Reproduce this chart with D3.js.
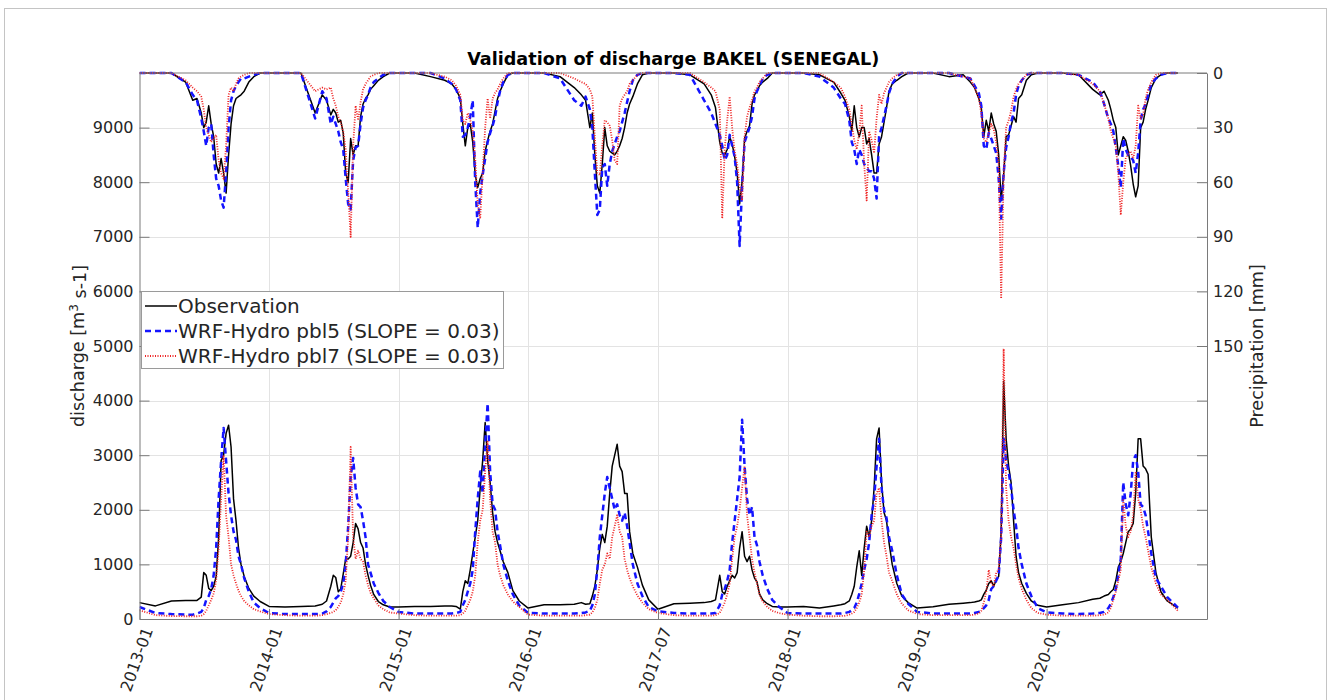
<!DOCTYPE html>
<html>
<head>
<meta charset="utf-8">
<script src="https://cdn.jsdelivr.net/npm/d3@7"></script>
<style>
  body { margin: 0; background: #fff; }
  text { font-family: "DejaVu Sans", sans-serif; fill: #262626; }
</style>
</head>
<body>
<script>
'use strict';

// sampling: one row of values per year, taken on these days of the year
const years = [2013, 2014, 2015, 2016, 2017, 2018, 2019, 2020];
const sampleDays = [0, 45, 90, 130, 150, 162, 174, 181, 188, 195, 202, 209, 216, 223, 230, 237, 244, 251, 258, 265, 272, 279, 286, 295, 308, 322, 340];
const lastDay = "2021-01-05";

const xTickLabels = ["2013-01", "2014-01", "2015-01", "2016-01", "2017-07", "2018-01", "2019-01", "2020-01"];
const seriesNames = ["Observation", "WRF-Hydro pbl5 (SLOPE = 0.03)", "WRF-Hydro pbl7 (SLOPE = 0.03)"];

// discharge [m3 s-1]
const obsDischarge = [
  300, 240, 330, 340, 340, 340, 400, 850, 800, 560, 520, 600, 780, 1500, 2900, 3000, 3400, 3550, 3150, 2200, 1800, 1300, 1000, 780, 560, 420, 320,
  230, 220, 230, 240, 270, 330, 600, 800, 760, 500, 550, 820, 1100, 1100, 1150, 1400, 1750, 1650, 1400, 1300, 1000, 800, 620, 450, 320, 260, 220,
  220, 230, 230, 240, 240, 230, 180, 500, 700, 650, 900, 1200, 1500, 1800, 2400, 2900, 3600, 2900, 2500, 1950, 1600, 1400, 1250, 1050, 850, 520, 330,
  200, 260, 260, 270, 300, 270, 280, 420, 600, 900, 1300, 1550, 1400, 1700, 2300, 2800, 3000, 3200, 2800, 2700, 2300, 2300, 1600, 1200, 950, 620, 350,
  180, 280, 290, 300, 320, 350, 800, 500, 460, 600, 700, 800, 750, 850, 1300, 1600, 1150, 1050, 1150, 900, 750, 680, 460, 350, 280, 230, 220,
  220, 230, 200, 240, 260, 280, 330, 450, 600, 950, 1250, 800, 1300, 1700, 1500, 1800, 2400, 3300, 3500, 2500, 1950, 1800, 1400, 1000, 650, 420, 300,
  200, 226, 270, 290, 300, 310, 330, 350, 450, 530, 650, 700, 600, 720, 780, 1600, 4350, 3300, 2800, 2500, 1800, 1150, 850, 650, 470, 330, 250,
  220, 260, 300, 360, 380, 420, 450, 500, 540, 700, 950, 1050, 1200, 1400, 1600, 1650, 1750, 2300, 3300, 3300, 2800, 2750, 2650, 1500, 850, 500, 330,
  200
];
const pbl5Discharge = [
  220, 110, 90, 80, 80, 100, 130, 200, 350, 420, 550, 800, 1300, 2200, 2900, 3500, 2900, 2300, 1900, 1600, 1450, 1150, 1000, 750, 500, 300, 200,
  110, 90, 90, 90, 100, 140, 220, 300, 380, 420, 500, 650, 1000, 1700, 2600, 2950, 2400, 2100, 2050, 1800, 1500, 1000, 850, 650, 480, 330, 220,
  130, 100, 100, 100, 100, 110, 130, 250, 350, 500, 650, 900, 1600, 2200, 2700, 2300, 3200, 3950, 2700, 2100, 2000, 1600, 1350, 1000, 700, 450, 250,
  110, 100, 100, 100, 110, 120, 150, 250, 450, 900, 1500, 1900, 2300, 2600, 2400, 2200, 2000, 2100, 1900, 1800, 1950, 1700, 1400, 1000, 650, 420, 220,
  140, 110, 100, 100, 100, 110, 250, 450, 550, 700, 900, 1400, 1800, 2200, 2600, 3650, 2800, 2200, 1900, 2050, 1500, 1350, 1050, 800, 550, 350, 230,
  110, 100, 100, 100, 100, 110, 130, 160, 200, 300, 460, 650, 900, 1100, 1400, 1900, 2200, 2800, 3300, 2400, 2000, 1850, 1500, 1250, 800, 450, 280,
  130, 100, 100, 100, 100, 110, 130, 150, 200, 250, 350, 550, 600, 700, 800, 1500, 3300, 2900, 2700, 2400, 2000, 1700, 1300, 1000, 650, 420, 200,
  120, 100, 90, 100, 110, 130, 200, 280, 400, 550, 800, 1100, 2500, 2100, 1900, 2300, 2900, 3000, 2700, 2100, 2050, 1900, 1600, 1200, 750, 600, 400,
  210
];
const pbl7Discharge = [
  160, 70, 55, 50, 50, 50, 60, 90, 150, 250, 350, 470, 700, 1300, 2200, 3000, 1900, 1500, 1000, 800, 650, 520, 420, 330, 250, 180, 140,
  90, 70, 60, 60, 70, 90, 110, 130, 160, 220, 300, 450, 700, 1500, 3150, 1500, 1100, 1250, 1100, 1050, 800, 620, 480, 380, 250, 180, 120,
  100, 70, 60, 60, 60, 60, 70, 100, 150, 250, 350, 500, 800, 1400, 1800, 2000, 2700, 3250, 2200, 1600, 1400, 1000, 800, 620, 450, 320, 220,
  80, 60, 60, 60, 60, 70, 80, 120, 200, 350, 650, 900, 1000, 1200, 1100, 1500, 1700, 1900, 1600, 1500, 1100, 900, 750, 600, 430, 300, 180,
  110, 70, 60, 60, 60, 70, 110, 200, 300, 450, 650, 1100, 1500, 1700, 2000, 2400, 2800, 1900, 1500, 1100, 850, 650, 450, 320, 220, 150, 110,
  80, 60, 50, 50, 55, 60, 80, 100, 130, 200, 300, 450, 900, 1600, 1500, 1700, 1800, 2300, 2400, 1800, 1400, 1150, 850, 700, 450, 280, 160,
  90, 70, 70, 70, 70, 80, 100, 150, 300, 500, 900, 650, 600, 850, 900, 1500, 4950, 2400, 1800, 1500, 1300, 1000, 750, 550, 350, 200, 110,
  80, 60, 60, 60, 70, 80, 120, 200, 350, 500, 700, 900, 2200, 1700, 1500, 1600, 1900, 2700, 2200, 2000, 1700, 1500, 1250, 950, 650, 450, 350,
  150
];

// precipitation [mm], plotted downward from the top on the right axis
const obsPrecip = [
  0, 0, 0, 5, 15, 14, 22, 30, 27, 18, 28, 35, 50, 55, 47, 55, 66, 45, 28, 18, 14, 13, 12, 10, 5, 2, 0,
  0, 0, 0, 22, 12, 15, 23, 20, 22, 27, 26, 33, 55, 60, 36, 45, 40, 40, 24, 17, 14, 12, 9, 7, 4, 2, 0,
  0, 0, 2, 4, 6, 9, 14, 28, 40, 30, 28, 38, 56, 63, 58, 55, 43, 37, 32, 28, 21, 14, 10, 6, 1, 0, 0,
  0, 0, 2, 8, 12, 15, 30, 22, 45, 62, 66, 50, 30, 40, 43, 44, 45, 43, 40, 36, 30, 22, 17, 13, 6, 1, 0,
  0, 0, 1, 6, 12, 19, 38, 44, 45, 42, 35, 39, 46, 55, 72, 60, 36, 32, 29, 17, 12, 10, 7, 5, 3, 0, 0,
  0, 0, 1, 5, 11, 15, 24, 32, 18, 30, 35, 30, 30, 39, 36, 45, 55, 55, 39, 35, 27, 19, 10, 6, 4, 2, 0,
  0, 0, 2, 1, 5, 8, 14, 19, 35, 26, 32, 22, 28, 32, 45, 70, 56, 35, 34, 29, 24, 27, 14, 12, 4, 1, 0,
  0, 0, 1, 9, 12, 10, 15, 20, 26, 30, 45, 40, 35, 37, 43, 51, 61, 68, 62, 30, 27, 20, 15, 8, 3, 1, 0,
  0
];
const pbl5Precip = [
  0, 0, 0, 5, 12, 15, 25, 32, 40, 30, 28, 45, 58, 62, 70, 74, 55, 30, 15, 10, 7, 5, 3, 3, 2, 1, 0,
  0, 0, 0, 25, 10, 14, 28, 24, 28, 32, 38, 42, 58, 72, 75, 48, 41, 40, 28, 19, 15, 12, 8, 5, 3, 1, 0,
  0, 0, 0, 3, 6, 9, 15, 35, 34, 30, 24, 15, 60, 85, 66, 56, 47, 38, 33, 29, 24, 16, 10, 5, 1, 0, 0,
  0, 0, 3, 15, 18, 13, 20, 30, 55, 78, 75, 52, 50, 62, 50, 43, 39, 35, 32, 27, 22, 16, 10, 4, 1, 0, 0,
  0, 0, 1, 15, 22, 28, 34, 40, 48, 45, 34, 40, 46, 60, 95, 62, 38, 34, 30, 24, 14, 10, 7, 3, 1, 0, 0,
  0, 0, 2, 8, 14, 17, 26, 38, 42, 50, 42, 45, 50, 52, 54, 54, 58, 69, 35, 30, 24, 18, 11, 6, 2, 0, 0,
  0, 0, 0, 2, 3, 7, 11, 18, 40, 42, 33, 36, 40, 44, 58, 80, 55, 41, 35, 27, 22, 12, 7, 4, 1, 0, 0,
  0, 0, 1, 5, 10, 17, 25, 28, 32, 41, 51, 63, 36, 42, 45, 46, 48, 55, 44, 26, 20, 17, 12, 6, 3, 1, 0,
  0
];
const pbl7Precip = [
  0, 0, 0, 4, 8, 10, 13, 20, 30, 34, 38, 36, 34, 48, 55, 58, 40, 12, 8, 10, 6, 3, 2, 1, 0, 0, 0,
  0, 0, 0, 10, 8, 9, 8, 14, 18, 24, 27, 32, 42, 65, 90, 40, 18, 26, 16, 9, 6, 4, 2, 1, 0, 0, 0,
  0, 0, 0, 2, 4, 7, 12, 26, 28, 22, 26, 32, 47, 72, 80, 55, 30, 14, 25, 14, 11, 9, 6, 3, 0, 0, 0,
  0, 0, 0, 3, 5, 6, 9, 13, 35, 55, 56, 40, 26, 27, 29, 37, 48, 50, 18, 14, 12, 10, 6, 4, 1, 0, 0,
  0, 0, 0, 5, 8, 10, 20, 80, 42, 26, 13, 30, 43, 50, 62, 70, 35, 24, 19, 15, 10, 8, 5, 3, 0, 0, 0,
  0, 0, 0, 5, 8, 13, 20, 28, 37, 42, 33, 18, 50, 70, 32, 37, 44, 25, 12, 17, 11, 8, 5, 3, 1, 0, 0,
  0, 0, 0, 2, 3, 8, 14, 22, 36, 38, 33, 28, 31, 38, 50, 124, 56, 30, 26, 21, 13, 9, 6, 4, 1, 0, 0,
  0, 0, 1, 6, 10, 17, 25, 32, 36, 40, 55, 78, 60, 47, 44, 43, 47, 40, 18, 25, 23, 14, 9, 5, 1, 0, 0,
  0
];

(function() {

  let width = 1328;
  let height = 700;
  let left = 139.5, right = 1207, top = 73, bottom = 619;

  let svg = d3.select("body")
    .append("svg")
    .attr("width", width)
    .attr("height", height);

  // figure frame
  svg.append("rect")
    .attr("x", 4.5)
    .attr("y", 8.5)
    .attr("width", 1322)
    .attr("height", 720)
    .attr("fill", "#fff")
    .attr("stroke", "#c4c4c4");

  let dates = [];
  years.forEach(yr => sampleDays.forEach(d => dates.push(d3.timeDay.offset(new Date(yr, 0, 1), d))));
  dates.push(d3.timeParse("%Y-%m-%d")(lastDay));

  let yearTicks = years.map(yr => new Date(yr, 0, 1));

  let x = d3.scaleTime()
    .domain([new Date(2013, 0, 1), new Date(2021, 2, 28)])
    .range([left, right]);
  let y = d3.scaleLinear()
    .domain([0, 10000])
    .range([bottom, top]);
  let yP = d3.scaleLinear()
    .domain([0, 300])
    .range([top, bottom]);

  // grid
  let grid = svg.append("g").attr("stroke", "#e3e3e3").attr("stroke-width", 1);
  grid.selectAll("line.h")
    .data(d3.range(1000, 10000, 1000))
    .enter()
    .append("line")
    .attr("x1", left).attr("x2", right)
    .attr("y1", d => Math.round(y(d)) + 0.5)
    .attr("y2", d => Math.round(y(d)) + 0.5);
  grid.selectAll("line.v")
    .data(yearTicks.slice(1))
    .enter()
    .append("line")
    .attr("y1", top).attr("y2", bottom)
    .attr("x1", d => Math.round(x(d)) + 0.5)
    .attr("x2", d => Math.round(x(d)) + 0.5);

  // series
  svg.append("clipPath")
    .attr("id", "plotclip")
    .append("rect")
    .attr("x", left).attr("y", top - 2)
    .attr("width", right - left).attr("height", bottom - top + 2);

  let lineQ = d3.line()
    .x((d, i) => x(dates[i]))
    .y(d => y(d));
  let lineP = d3.line()
    .x((d, i) => x(dates[i]))
    .y(d => yP(d));

  let styles = [
    { color: "#000000", width: 1.5, dash: null },
    { color: "#1414ff", width: 2.5, dash: "6,4" },
    { color: "#ee2222", width: 1.8, dash: "1,1.5" }
  ];

  let plot = svg.append("g").attr("clip-path", "url(#plotclip)").attr("fill", "none");
  let discharge = [obsDischarge, pbl5Discharge, pbl7Discharge];
  let precip = [obsPrecip, pbl5Precip, pbl7Precip];

  [0, 1, 2].forEach(k => {
    plot.append("path")
      .attr("d", lineQ(discharge[k]))
      .attr("stroke", styles[k].color)
      .attr("stroke-width", styles[k].width)
      .attr("stroke-dasharray", styles[k].dash)
      .attr("stroke-linejoin", "round");
  });
  [0, 1, 2].forEach(k => {
    plot.append("path")
      .attr("d", lineP(precip[k]))
      .attr("stroke", styles[k].color)
      .attr("stroke-width", styles[k].width)
      .attr("stroke-dasharray", styles[k].dash)
      .attr("stroke-linejoin", "round");
  });

  // axes
  let axisColor = "#7a7a7a";

  let gLeft = svg.append("g")
    .attr("transform", "translate(" + left + ",0)")
    .call(d3.axisLeft(y)
      .tickValues(d3.range(0, 10000, 1000))
      .tickSize(-10)
      .tickSizeOuter(0)
      .tickPadding(6)
      .tickFormat(d3.format("d")));

  let gRight = svg.append("g")
    .attr("transform", "translate(" + right + ",0)")
    .call(d3.axisRight(yP)
      .tickValues(d3.range(0, 300, 30))
      .tickSize(-10)
      .tickSizeOuter(0)
      .tickPadding(6)
      .tickFormat(d => d <= 150 ? d : ""));

  let gBottom = svg.append("g")
    .attr("transform", "translate(0," + bottom + ")")
    .call(d3.axisBottom(x)
      .tickValues(yearTicks)
      .tickSize(-10)
      .tickSizeOuter(0)
      .tickFormat((d, i) => xTickLabels[i]));

  gBottom.selectAll("text")
    .attr("x", 0)
    .attr("y", 0)
    .attr("dy", "0.35em")
    .attr("text-anchor", "end")
    .attr("transform", "translate(8,9) rotate(-70)");

  [gLeft, gRight, gBottom].forEach(g => {
    g.selectAll(".domain").attr("stroke", axisColor);
    g.selectAll(".tick line").attr("stroke", axisColor);
    g.selectAll("text")
      .attr("font-family", "DejaVu Sans")
      .attr("font-size", 16)
      .attr("fill", "#262626");
  });

  svg.append("line")
    .attr("x1", left).attr("x2", right)
    .attr("y1", top).attr("y2", top)
    .attr("stroke", axisColor);

  // title and axis labels
  svg.append("text")
    .attr("x", (left + right) / 2)
    .attr("y", 65)
    .attr("text-anchor", "middle")
    .attr("font-size", 17.6)
    .attr("font-weight", "bold")
    .style("fill", "#000")
    .text("Validation of discharge BAKEL (SENEGAL)");

  let yLabel = svg.append("text")
    .attr("transform", "translate(83.5," + (top + bottom) / 2 + ") rotate(-90)")
    .attr("text-anchor", "middle")
    .attr("font-size", 17.6);
  yLabel.append("tspan").text("discharge [m");
  yLabel.append("tspan").attr("dy", "-0.5em").attr("font-size", 12).text("3");
  yLabel.append("tspan").attr("dy", "0.5em").text(" s-1]");

  svg.append("text")
    .attr("transform", "translate(1263," + (top + bottom) / 2 + ") rotate(-90)")
    .attr("text-anchor", "middle")
    .attr("font-size", 17.6)
    .text("Precipitation [mm]");

  // legend
  let legend = svg.append("g");
  legend.append("rect")
    .attr("x", 141.5)
    .attr("y", 291.5)
    .attr("width", 362)
    .attr("height", 77)
    .attr("fill", "#fff")
    .attr("stroke", "#9a9a9a");

  let rows = legend.selectAll("g.row")
    .data(seriesNames)
    .enter()
    .append("g")
    .attr("transform", (d, i) => "translate(0," + (306 + i * 25) + ")");
  rows.append("line")
    .attr("x1", 145).attr("x2", 177)
    .attr("y1", 0).attr("y2", 0)
    .attr("stroke", (d, i) => styles[i].color)
    .attr("stroke-width", (d, i) => styles[i].width)
    .attr("stroke-dasharray", (d, i) => styles[i].dash);
  rows.append("text")
    .attr("x", 178)
    .attr("y", 0)
    .attr("dy", "0.35em")
    .attr("font-size", 20)
    .text(d => d);

})();
</script>
</body>
</html>
